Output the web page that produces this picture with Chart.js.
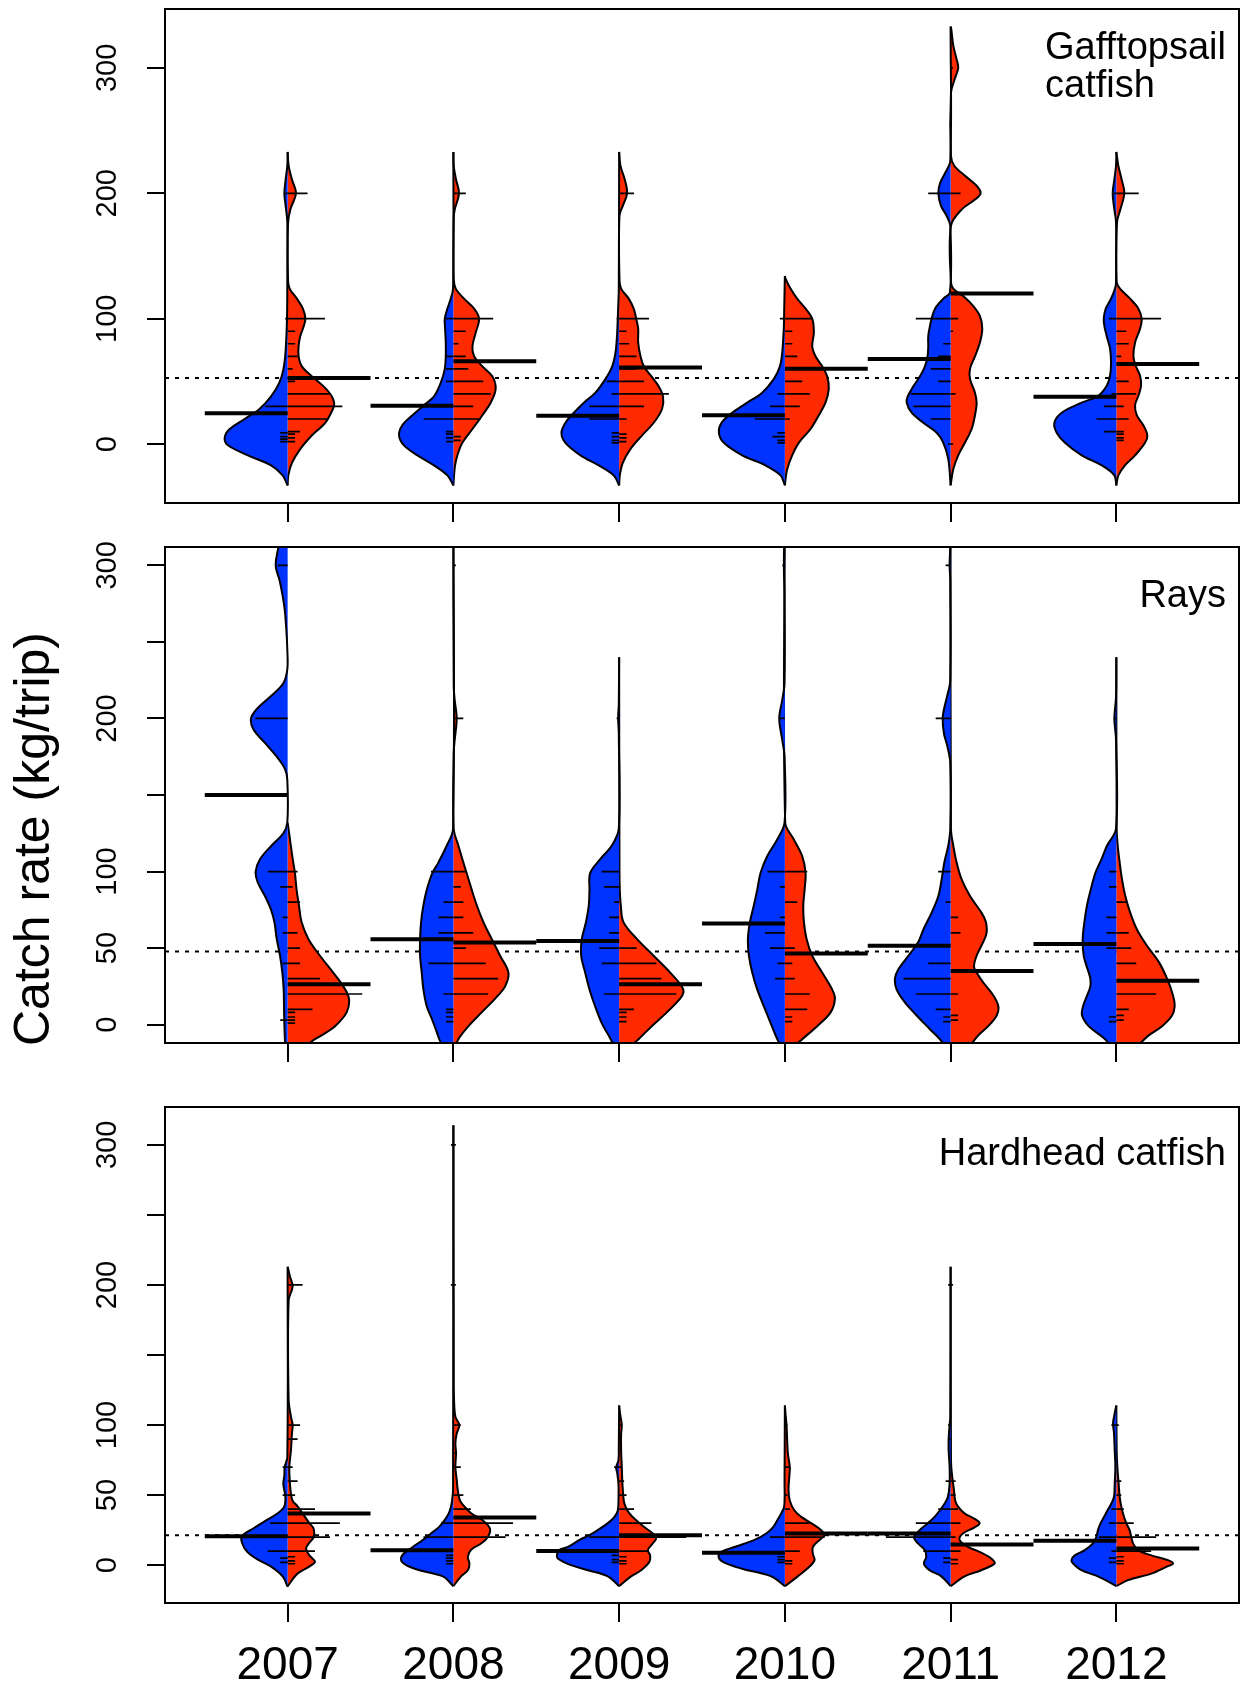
<!DOCTYPE html>
<html>
<head>
<meta charset="utf-8">
<script src="https://cdn.jsdelivr.net/npm/chart.js@4.4.1/dist/chart.umd.min.js"></script>
<style>
  html, body { margin: 0; padding: 0; background: #fff; }
  #wrap { position: relative; width: 1249px; height: 1688px; }
  canvas { position: absolute; left: 0; }
</style>
</head>
<body>
<div id="wrap">
  <canvas id="gaffChart" width="1249" height="525" style="top:0"></canvas>
  <canvas id="raysChart" width="1249" height="545" style="top:525px"></canvas>
  <canvas id="hardChart" width="1249" height="618" style="top:1070px"></canvas>
</div>
<script>
const years = ['2007', '2008', '2009', '2010', '2011', '2012'];

// y axis ticks and which of them carry a label
const gaffTicks = [0, 100, 200, 300];
const gaffTickLabels = [0, 100, 200, 300];
const raysTicks = [0, 50, 100, 150, 200, 250, 300];
const raysTickLabels = [0, 50, 100, 200, 300];
const hardTicks = [0, 50, 100, 150, 200, 250, 300];
const hardTickLabels = [0, 50, 100, 200, 300];

// bean outlines, per year: [catch rate, half width of the bean]
const gaffBlue = [
  [[-33,0],[-25,0.03],[-17,0.1],[-9,0.24],[-1,0.36],[5,0.38],[12,0.35],[20,0.26],[28,0.17],[38,0.1],[49,0.05],[60,0.025],[75,0.012],[100,0.004],[130,0.002],[177,0.002],[190,0.012],[200,0.02],[211,0.012],[222,0.002],[233,0]],
  [[-33,0],[-25,0.036],[-17,0.117],[-9,0.217],[-1,0.298],[7,0.328],[15,0.308],[23,0.247],[31,0.177],[38,0.117],[49,0.076],[60,0.052],[70,0.046],[81,0.046],[92,0.05],[100,0.052],[108,0.036],[116,0.016],[124,0.002],[233,0]],
  [[-33,0],[-25,0.032],[-17,0.123],[-9,0.233],[1,0.324],[9,0.348],[17,0.324],[25,0.273],[33,0.213],[41,0.143],[52,0.082],[62,0.042],[73,0.022],[84,0.014],[94,0.01],[108,0.006],[124,0.002],[233,0]],
  [[-33,0],[-25,0.026],[-17,0.117],[-9,0.257],[1,0.368],[9,0.398],[17,0.382],[25,0.318],[33,0.227],[41,0.137],[52,0.066],[62,0.03],[73,0.016],[84,0.01],[94,0.006],[108,0.004],[134,0]],
  [[-33,0],[-12,0.014],[1,0.044],[9,0.084],[17,0.165],[25,0.235],[33,0.265],[38,0.259],[46,0.225],[54,0.185],[62,0.155],[70,0.139],[78,0.135],[86,0.135],[94,0.125],[100,0.115],[108,0.094],[116,0.044],[121,0.004],[174,0.002],[182,0.024],[190,0.058],[200,0.074],[208,0.064],[216,0.034],[226,0.002],[333,0]],
  [[-33,0],[-25,0.012],[-17,0.088],[-9,0.209],[1,0.31],[9,0.36],[17,0.374],[25,0.33],[33,0.209],[38.5,0.109],[46.5,0.058],[54.5,0.038],[65,0.032],[76,0.038],[86,0.058],[94,0.072],[100,0.076],[108,0.064],[116,0.032],[124,0.008],[129,0.002],[177,0.002],[187,0.012],[200,0.022],[211,0.012],[222,0.002],[233,0]]
];
const gaffRed = [
  [[-33,0],[-25,0.004],[-15,0.026],[-4,0.076],[7,0.147],[17,0.227],[28,0.273],[32,0.281],[38,0.267],[46,0.217],[54,0.147],[62,0.086],[70,0.066],[78,0.066],[86,0.076],[94,0.097],[100,0.107],[108,0.092],[116,0.056],[124,0.012],[132,0.002],[175,0.002],[187,0.016],[200,0.05],[211,0.026],[222,0.006],[233,0]],
  [[-33,0],[-25,0.004],[-17,0.01],[-9,0.024],[1,0.054],[12,0.115],[23,0.175],[33,0.225],[44,0.255],[54,0.235],[62,0.175],[70,0.125],[78,0.115],[89,0.135],[100,0.155],[108,0.125],[116,0.064],[124,0.014],[132,0.002],[180,0.002],[187,0.008],[200,0.034],[211,0.016],[222,0.002],[233,0]],
  [[-33,0],[-25,0.004],[-15,0.022],[-4,0.068],[7,0.139],[17,0.209],[28,0.259],[38,0.265],[46,0.239],[54,0.195],[62,0.149],[70,0.129],[81,0.115],[92,0.115],[100,0.103],[108,0.088],[116,0.058],[124,0.012],[132,0.002],[182,0.002],[190,0.022],[200,0.048],[211,0.034],[222,0.008],[233,0]],
  [[-33,0],[-28,0.004],[-20,0.014],[-9,0.044],[1,0.084],[12,0.155],[23,0.205],[33,0.245],[44,0.265],[54,0.255],[62,0.225],[70,0.185],[78,0.165],[89,0.175],[100,0.165],[108,0.125],[116,0.074],[124,0.034],[132,0.004],[134,0]],
  [[-33,0],[-20,0.016],[-9,0.046],[1,0.086],[12,0.127],[23,0.147],[33,0.157],[41,0.147],[52,0.117],[60,0.117],[70,0.147],[81,0.177],[92,0.191],[102,0.177],[110,0.137],[118,0.076],[124,0.016],[129,0.002],[174,0.002],[187,0.066],[195,0.147],[200,0.181],[206,0.157],[214,0.087],[222,0.022],[230,0.002],[280,0.002],[290,0.022],[300,0.046],[307,0.036],[318,0.016],[331,0.004],[333,0]],
  [[-33,0],[-25,0.012],[-17,0.052],[-9,0.113],[1,0.173],[7,0.187],[15,0.163],[23,0.123],[31,0.113],[38.5,0.133],[46.5,0.149],[54.5,0.143],[62.5,0.117],[70,0.103],[81,0.113],[92,0.143],[100,0.153],[108,0.133],[116,0.083],[124,0.022],[129,0.002],[177,0.004],[187,0.024],[200,0.048],[211,0.032],[222,0.012],[233,0]]
];
const raysBlue = [
  [[-25,0],[-20,0.01],[-11,0.016],[1,0.02],[12,0.022],[23,0.024],[34,0.032],[45,0.046],[56,0.066],[67,0.08],[75,0.1],[84,0.137],[93,0.181],[100,0.193],[108,0.167],[117,0.097],[125,0.026],[132,0.002],[160,0.002],[167,0.016],[175,0.066],[184,0.137],[193,0.207],[200,0.221],[206,0.187],[215,0.097],[223,0.026],[232,0.002],[245,0.002],[258,0.008],[273,0.02],[289,0.046],[300,0.072],[312,0.056],[325,0.04],[340,0]],
  [[-28,0],[-20,0.04],[-11,0.08],[-5,0.1],[4,0.131],[12,0.161],[23,0.181],[34,0.191],[45,0.201],[56,0.201],[67,0.195],[78,0.181],[88,0.161],[99,0.127],[106,0.09],[117,0.04],[128,0.002],[340,0]],
  [[-25,0],[-20,0.01],[-11,0.044],[-7,0.064],[1,0.105],[12,0.145],[23,0.179],[34,0.205],[45,0.229],[56,0.225],[67,0.2],[78,0.183],[88,0.179],[99,0.175],[108,0.115],[117,0.044],[128,0.002],[190,0.002],[200,0.006],[210,0.002],[240,0]],
  [[-22,0],[-15,0.02],[-9.5,0.046],[1,0.086],[12,0.127],[23,0.167],[34,0.197],[45,0.217],[56,0.223],[67,0.211],[78,0.187],[88,0.167],[99,0.147],[110,0.107],[121,0.046],[132,0.002],[175,0.002],[186,0.016],[200,0.034],[212,0.016],[223,0.002],[280,0.002],[300,0.006],[340,0]],
  [[-24,0],[-18,0.02],[-11,0.054],[-3,0.125],[6,0.205],[14.5,0.276],[23,0.326],[30,0.336],[36,0.316],[45,0.255],[54,0.195],[62,0.165],[73,0.115],[84,0.074],[95,0.054],[106,0.038],[117,0.014],[128,0.002],[171,0.002],[182,0.02],[190,0.04],[200,0.048],[206,0.04],[215,0.02],[225,0.002],[290,0.002],[300,0.006],[310,0.003],[340,0]],
  [[-24,0],[-18,0.02],[-11,0.056],[-7,0.097],[-1,0.167],[6,0.207],[12,0.201],[19,0.177],[25,0.157],[30,0.157],[34,0.167],[45,0.197],[56,0.203],[67,0.193],[78,0.177],[88,0.155],[99,0.127],[108,0.09],[117,0.056],[128,0.002],[186,0.002],[200,0.012],[214,0.002],[240,0]]
];
const raysRed = [
  [[-25,0],[-20,0.06],[-11,0.145],[-7,0.205],[-1,0.286],[8,0.356],[17,0.37],[25,0.336],[34,0.275],[45,0.195],[56,0.125],[67,0.084],[78,0.068],[88,0.054],[99,0.044],[110,0.028],[121,0.014],[132,0]],
  [[-20,0],[-15,0.01],[-9.5,0.03],[-1,0.091],[8,0.171],[17,0.252],[25,0.312],[34,0.332],[45,0.282],[56,0.231],[67,0.181],[78,0.141],[88,0.111],[99,0.08],[106,0.06],[117,0.03],[128,0.002],[178,0.002],[186,0.008],[200,0.02],[212,0.008],[221,0.002],[340,0]],
  [[-22,0],[-15,0.06],[-9.5,0.117],[-1,0.197],[8,0.288],[17,0.368],[21,0.388],[25,0.378],[34,0.308],[45,0.208],[56,0.107],[67,0.026],[78,0.01],[88,0.004],[100,0.002],[240,0]],
  [[-22,0],[-15,0.05],[-9.5,0.105],[-1,0.195],[8,0.276],[17,0.302],[23,0.285],[34,0.225],[45,0.165],[56,0.131],[67,0.115],[78,0.111],[88,0.119],[99,0.125],[110,0.105],[121,0.054],[132,0.002],[340,0]],
  [[-24,0],[-18,0.07],[-11,0.137],[-7,0.167],[-1,0.227],[6,0.278],[12,0.288],[19,0.258],[27.5,0.197],[34,0.157],[38,0.141],[45,0.157],[54,0.197],[60,0.217],[67,0.213],[73,0.187],[84,0.117],[95,0.066],[106,0.036],[117,0.016],[128,0.002],[340,0]],
  [[-24,0],[-18,0.08],[-11,0.155],[-7,0.195],[-1,0.276],[6,0.336],[12,0.352],[19,0.342],[30,0.306],[41,0.256],[51.5,0.185],[62,0.125],[73,0.084],[84,0.054],[95,0.034],[106,0.02],[117,0.008],[128,0.002],[240,0]]
];
const hardBlue = [
  [[-15.5,0],[-8,0.03],[-1,0.1],[4,0.18],[8,0.23],[12,0.26],[16,0.275],[19,0.28],[22,0.265],[26,0.21],[32,0.13],[37,0.06],[42,0.02],[49,0.014],[58,0.026],[64,0.02],[70,0.018],[77,0.002],[213,0]],
  [[-15,0],[-8,0.064],[-3.6,0.205],[0,0.285],[3.6,0.316],[8,0.302],[13,0.245],[18,0.185],[22.6,0.135],[27,0.089],[32,0.054],[37,0.028],[42,0.014],[46,0.008],[54,0.002],[314,0]],
  [[-15,0],[-8,0.068],[-3.6,0.189],[0,0.29],[4.8,0.37],[8,0.374],[11,0.36],[13,0.309],[18,0.239],[21.4,0.179],[25,0.129],[30,0.068],[34.5,0.028],[39,0.008],[46,0.004],[58,0.004],[66,0.012],[70,0.018],[75,0.004],[85,0.002],[114,0]],
  [[-15,0],[-8,0.082],[-2.4,0.263],[2.4,0.374],[6,0.4],[9.5,0.384],[13,0.304],[18,0.183],[22.6,0.113],[27,0.072],[32,0.046],[37,0.022],[42,0.004],[60,0.002],[114,0]],
  [[-15,0],[-8,0.056],[-3.6,0.127],[1,0.161],[6,0.147],[11,0.157],[15.5,0.197],[20,0.221],[25,0.187],[30,0.137],[34.5,0.097],[39,0.066],[44,0.036],[49,0.016],[58,0.006],[70,0.006],[82,0.012],[90,0.012],[100,0.006],[106,0.002],[213,0]],
  [[-15,0],[-8,0.111],[-3.6,0.211],[1.2,0.261],[3.6,0.271],[7,0.251],[10.7,0.191],[15.5,0.141],[20,0.121],[25,0.111],[30,0.095],[34.5,0.074],[39,0.054],[44,0.03],[49,0.014],[58,0.01],[70,0.006],[82,0.01],[94,0.014],[101,0.02],[106,0.014],[114,0]]
];
const hardRed = [
  [[-15,0],[-6,0.06],[-1,0.13],[2.4,0.165],[7,0.131],[12,0.111],[16,0.131],[20,0.157],[26,0.157],[30,0.131],[37,0.09],[42,0.06],[46,0.03],[51,0.02],[58,0.014],[70,0.01],[82,0.02],[94,0.026],[100,0.03],[106,0.02],[118,0.006],[189,0.006],[199,0.03],[206,0.014],[213,0]],
  [[-15,0],[-8,0.046],[-3.6,0.087],[1,0.097],[6,0.087],[11,0.107],[15.5,0.167],[20,0.207],[26,0.221],[32,0.177],[37,0.107],[42,0.066],[46,0.04],[54,0.026],[61,0.02],[70,0.012],[80,0.016],[87,0.012],[94,0.02],[100,0.036],[106,0.012],[118,0.004],[135,0.002],[314,0]],
  [[-15,0],[-8,0.072],[-3.6,0.133],[2.4,0.183],[7,0.187],[10.7,0.173],[15.5,0.203],[19,0.223],[22.6,0.203],[27,0.153],[32,0.103],[37,0.062],[42,0.038],[46,0.028],[58,0.02],[70,0.016],[82,0.012],[94,0.012],[100,0.016],[108,0.006],[114,0]],
  [[-15,0],[-8,0.078],[-1,0.149],[3.6,0.179],[8,0.169],[13,0.169],[18,0.209],[21.4,0.239],[25,0.219],[30,0.159],[34.5,0.099],[39,0.058],[46,0.03],[54,0.022],[65,0.028],[70,0.03],[80,0.018],[89,0.014],[100,0.01],[108,0.004],[114,0]],
  [[-15,0],[-8,0.084],[-3.6,0.185],[1.2,0.265],[4.8,0.245],[9.5,0.175],[13,0.105],[18,0.054],[22.6,0.074],[27,0.145],[30,0.175],[33,0.145],[37,0.084],[42,0.044],[46,0.028],[54,0.02],[61,0.012],[70,0.004],[80,0.002],[213,0]],
  [[-15,0],[-10.7,0.07],[-6,0.211],[-1.2,0.302],[1.2,0.342],[3.6,0.312],[7,0.211],[10.7,0.131],[15.5,0.101],[20,0.09],[25,0.08],[30,0.06],[34.5,0.046],[41.7,0.03],[49,0.02],[58,0.014],[70,0.006],[82,0.002],[114,0]]
];

// single trips, per year: [catch rate, number of trips]
const gaffBlueObs = [
  [[2,3],[4,3],[6,3],[9,3],[30,9],[100,1],[200,1]],
  [[2,3],[5,3],[8,3],[10,3],[20,12],[50,3],[60,3],[70,3],[100,3]],
  [[1,3],[3,3],[6,3],[9,3],[20,12],[30,12],[40,3],[50,5],[100,1]],
  [[1,3],[3,3],[6,5],[9,3],[20,12],[30,6],[40,3],[100,2]],
  [[0,1],[20,8],[30,15],[40,16],[50,5],[60,8],[70,5],[80,3],[100,14],[200,9]],
  [[10,5],[20,8],[30,5],[40,2],[100,3],[200,1]]
];
const gaffRedObs = [
  [[2,3],[5,3],[8,3],[10,5],[20,16],[30,22],[40,17],[50,3],[60,2],[70,4],[80,3],[90,3],[100,15],[200,8]],
  [[3,3],[6,3],[20,11],[30,8],[40,15],[50,12],[60,6],[70,5],[80,2],[90,5],[100,16],[200,5]],
  [[2,3],[5,3],[8,3],[20,3],[30,10],[40,20],[50,10],[60,7],[70,7],[80,4],[90,3],[100,12],[200,6]],
  [[20,2],[30,6],[40,10],[50,7],[70,5],[80,3],[90,3],[100,11]],
  [[0,1],[40,2],[90,1],[100,3],[200,4],[300,1]],
  [[3,3],[5,3],[8,3],[10,3],[20,5],[30,3],[40,8],[50,5],[70,2],[80,5],[90,4],[100,18],[200,9]]
];
const raysBlueObs = [
  [[3,3],[40,2],[60,2],[70,2],[90,3],[100,8],[200,13],[300,4]],
  [[2,3],[5,3],[8,3],[10,3],[20,4],[40,10],[60,6],[70,6],[80,4],[100,9]],
  [[20,6],[40,7],[50,8],[60,4],[70,4],[80,2],[90,6],[100,7],[200,1]],
  [[30,4],[40,3],[50,6],[60,8],[70,2],[90,2],[100,7],[200,2],[300,1]],
  [[2,3],[5,3],[10,6],[20,14],[30,19],[40,9],[80,2],[100,5],[200,6],[300,2]],
  [[2,3],[5,3],[50,4],[60,4],[70,4],[90,3],[100,3],[200,1]]
];
const raysRedObs = [
  [[1,3],[3,3],[5,3],[8,3],[10,10],[20,30],[30,13],[40,5],[50,5],[60,4],[80,5],[90,2],[100,4]],
  [[20,14],[30,18],[40,13],[50,5],[60,8],[70,4],[80,4],[90,3],[100,5],[200,4],[300,1]],
  [[2,3],[5,3],[8,3],[10,6],[20,23],[30,17],[40,15],[50,7]],
  [[2,3],[5,3],[10,9],[20,10],[30,4],[40,3],[50,4],[80,5],[100,9]],
  [[3,3],[6,3],[20,3],[60,4],[70,3]],
  [[3,3],[6,3],[10,5],[20,16],[40,8],[50,6],[60,5],[80,4]]
];
const hardBlueObs = [
  [[2,3],[5,3],[10,8],[20,18],[30,7],[50,2],[70,2]],
  [[1,3],[3,3],[5,3],[7,3],[20,12],[30,5],[200,1],[300,1]],
  [[2,3],[4,3],[7,3],[20,12],[70,2]],
  [[2,3],[4,3],[6,3],[20,6]],
  [[2,3],[5,3],[10,11],[20,26],[30,14],[40,5],[60,2],[90,1],[100,1],[200,1]],
  [[2,3],[5,3],[10,2],[20,7],[30,3],[40,2],[100,2]]
];
const hardRedObs = [
  [[1,3],[3,3],[6,3],[10,11],[20,17],[30,21],[40,11],[50,3],[60,4],[70,2],[90,4],[100,5],[200,6]],
  [[20,21],[30,24],[40,7],[50,4],[70,3],[80,1],[100,3],[200,1],[300,1]],
  [[1,3],[3,3],[6,3],[10,12],[20,27],[30,13],[40,6],[50,3],[60,2],[70,1],[90,1],[100,1]],
  [[1,3],[3,3],[10,6],[20,16],[30,10],[40,2],[50,1],[70,2],[100,1]],
  [[1,3],[4,3],[10,4],[20,2],[30,4],[40,3],[50,2],[60,2],[200,1]],
  [[1,3],[3,3],[6,3],[10,14],[20,16],[30,7],[40,3],[50,2],[60,2],[100,1]]
];

// group means and overall mean
const gaffBlueMean = [24.5, 30.6, 22.6, 23, 67.8, 37.7];
const gaffRedMean = [52.6, 66, 61, 60, 120, 63.8];
const gaffGrandMean = 52.6;
const raysBlueMean = [150, 55.8, 54.7, 66, 51.5, 52.6];
const raysRedMean = [26.4, 53.6, 26.4, 46.5, 35.1, 28.6];
const raysGrandMean = 47.8;
const hardBlueMean = [20.7, 10.7, 10.2, 8.8, 22.6, 17.4];
const hardRedMean = [36.9, 34, 21.4, 22.6, 14.8, 11.9];
const hardGrandMean = 21.4;

const gaffName = ['Gafftopsail', 'catfish'];
const raysName = ['Rays'];
const hardName = ['Hardhead catfish'];
const yTitle = 'Catch rate (kg/trip)';

const BLUE = '#0033ff';
const RED = '#ff2a00';
const FONT = '"Liberation Sans", Arial, Helvetica, sans-serif';
const X_MIN = 0.26, X_MAX = 6.74;
const LINE_UNIT = 0.015;   // beanline length per trip
const MEAN_LEN = 0.5;

function halfBean(profile, pos, side, color) {
  return {
    data: profile.map(([v, w]) => ({ x: pos + side * w, y: v })),
    backgroundColor: color,
    borderColor: '#000',
    borderWidth: 2,
    fill: 'shape',
    tension: 0.35,
    order: 3
  };
}

function beanLines(obsList, side) {
  const pts = [];
  obsList.forEach((obs, i) => {
    obs.forEach(([v, n]) => {
      pts.push({ x: i + 1, y: v }, { x: i + 1 + side * n * LINE_UNIT, y: v }, { x: i + 1, y: null });
    });
  });
  return { data: pts, borderColor: '#000', borderWidth: 1.7, order: 2 };
}

function meanLines(means, side) {
  const pts = [];
  means.forEach((m, i) => {
    pts.push({ x: i + 1, y: m }, { x: i + 1 + side * MEAN_LEN, y: m }, { x: i + 1, y: null });
  });
  return { data: pts, borderColor: '#000', borderWidth: 4, order: 1 };
}

function buildDatasets(p) {
  const sets = [{
    data: [{ x: X_MIN, y: p.grand }, { x: X_MAX, y: p.grand }],
    borderColor: '#000', borderWidth: 2, borderDash: [4, 6], order: 5
  }];
  years.forEach((yr, i) => {
    sets.push(halfBean(p.blue[i], i + 1, -1, BLUE));
    sets.push(halfBean(p.red[i], i + 1, 1, RED));
  });
  sets.push(beanLines(p.blueObs, -1), beanLines(p.redObs, 1));
  sets.push(meanLines(p.blueMean, -1), meanLines(p.redMean, 1));
  return sets;
}

const framePlugin = {
  id: 'frame',
  afterDraw(chart, args, opts) {
    const { ctx, chartArea: a } = chart;
    ctx.save();
    ctx.strokeStyle = '#000';
    ctx.lineWidth = 2;
    ctx.strokeRect(a.left, a.top, a.right - a.left, a.bottom - a.top);
    ctx.fillStyle = '#000';
    ctx.font = '38px ' + FONT;
    ctx.textAlign = 'left';
    ctx.textBaseline = 'alphabetic';
    const w = Math.max(...opts.name.map(l => ctx.measureText(l).width));
    opts.name.forEach((l, i) => ctx.fillText(l, a.right - 13 - w, a.top + opts.nameTop + i * 38));
    if (opts.title) {
      ctx.font = '50px ' + FONT;
      ctx.textAlign = 'center';
      ctx.textBaseline = 'middle';
      ctx.translate(opts.title.x, opts.title.y);
      ctx.rotate(-Math.PI / 2);
      ctx.fillText(opts.title.text, 0, 0);
    }
    ctx.restore();
  }
};

const panels = [
  { id: 'gaffChart', blue: gaffBlue, red: gaffRed, blueObs: gaffBlueObs, redObs: gaffRedObs,
    blueMean: gaffBlueMean, redMean: gaffRedMean, grand: gaffGrandMean,
    yMin: -47, yMax: 347, ticks: gaffTicks, labels: gaffTickLabels, name: gaffName,
    padTop: 9, axisHeight: 22, nameTop: 50, showYears: false },
  { id: 'raysChart', blue: raysBlue, red: raysRed, blueObs: raysBlueObs, redObs: raysRedObs,
    blueMean: raysBlueMean, redMean: raysRedMean, grand: raysGrandMean,
    yMin: -12, yMax: 312, ticks: raysTicks, labels: raysTickLabels, name: raysName,
    padTop: 22, axisHeight: 27, nameTop: 60, showYears: false,
    title: { text: yTitle, x: 35, y: 314 } },
  { id: 'hardChart', blue: hardBlue, red: hardRed, blueObs: hardBlueObs, redObs: hardRedObs,
    blueMean: hardBlueMean, redMean: hardRedMean, grand: hardGrandMean,
    yMin: -27, yMax: 327, ticks: hardTicks, labels: hardTickLabels, name: hardName,
    padTop: 37, axisHeight: 85, nameTop: 58, showYears: true }
];

function makeChart(p) {
  return new Chart(document.getElementById(p.id), {
    type: 'line',
    data: { datasets: buildDatasets(p) },
    options: {
      responsive: false,
      animation: false,
      devicePixelRatio: 1,
      events: [],
      layout: { padding: { top: p.padTop, right: 10, left: 0, bottom: 0 } },
      elements: {
        point: { radius: 0 },
        line: { fill: false, capBezierPoints: false, spanGaps: false }
      },
      plugins: {
        legend: { display: false },
        tooltip: { enabled: false },
        frame: { name: p.name, nameTop: p.nameTop, title: p.title }
      },
      scales: {
        x: {
          type: 'linear', min: X_MIN, max: X_MAX, bounds: 'data',
          afterBuildTicks: s => { s.ticks = years.map((yr, i) => ({ value: i + 1 })); },
          afterFit: s => { s.height = p.axisHeight; s.paddingLeft = 0; s.paddingRight = 0; },
          border: { display: false },
          grid: { drawOnChartArea: false, drawTicks: true, tickLength: 19, color: '#000', lineWidth: 2 },
          ticks: {
            display: p.showYears, autoSkip: false, maxRotation: 0, minRotation: 0, padding: 17,
            color: '#000', font: { family: FONT, size: 46 },
            callback: v => years[v - 1]
          }
        },
        y: {
          type: 'linear', min: p.yMin, max: p.yMax, bounds: 'data',
          afterBuildTicks: s => { s.ticks = p.ticks.map(v => ({ value: v })); },
          afterFit: s => { s.width = 165; s.paddingTop = 0; s.paddingBottom = 0; },
          border: { display: false },
          grid: { drawOnChartArea: false, drawTicks: true, tickLength: 18, color: '#000', lineWidth: 2 },
          ticks: {
            autoSkip: false, minRotation: 90, maxRotation: 90, crossAlign: 'center', padding: 15,
            color: '#000', font: { family: FONT, size: 29 },
            callback: v => (p.labels.includes(v) ? String(v) : '')
          }
        }
      }
    },
    plugins: [framePlugin]
  });
}

panels.forEach(makeChart);
</script>
</body>
</html>
